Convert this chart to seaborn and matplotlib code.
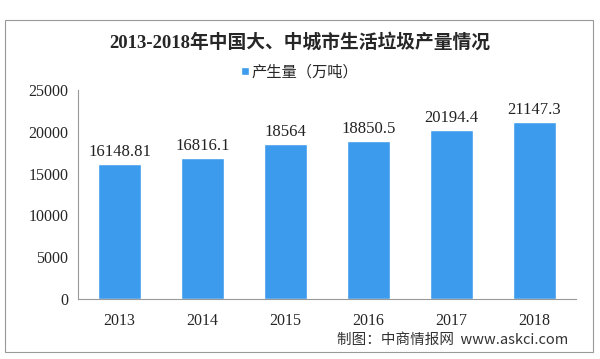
import matplotlib
matplotlib.use("Agg")
import matplotlib.pyplot as plt
import seaborn as sns
import pandas as pd
from matplotlib.patches import Rectangle

# datos
anios = ["2013", "2014", "2015", "2016", "2017", "2018"]
produccion = [16148.81, 16816.1, 18564, 18850.5, 20194.4, 21147.3]
etiquetas = ["16148.81", "16816.1", "18564", "18850.5", "20194.4", "21147.3"]
yticks = [0, 5000, 10000, 15000, 20000, 25000]

sns.set_style("white")
plt.rcParams['font.family'] = ['Liberation Serif', 'Noto Sans CJK SC', 'DejaVu Sans']

df = pd.DataFrame({"anio": anios, "valor": produccion})

fig = plt.figure(figsize=(6, 3.59), dpi=100)
ax = fig.add_axes([78/600, 1-299/359, 498/600, 209/359])

sns.barplot(data=df, x="anio", y="valor", color="#3c9bec", saturation=1,
            width=0.52, ax=ax, label="产生量（万吨）")
if ax.get_legend() is not None:
    ax.get_legend().remove()

ax.set_ylim(0, 25000)
ax.set_yticks(yticks)
ax.set_xlim(-0.5, 5.5)
ax.set_xlabel("")
ax.set_ylabel("")
ax.tick_params(axis="y", labelsize=11.5, length=4, color="#888888", direction="out", pad=3)
ax.tick_params(axis="x", which="major", labelsize=11.5, length=0, pad=10)
ax.set_xticks([i - 0.5 for i in range(7)], minor=True)
ax.tick_params(axis="x", which="minor", length=4, color="#888888")
for s in ["top", "right"]:
    ax.spines[s].set_visible(False)
for s in ["left", "bottom"]:
    ax.spines[s].set_color("#999999")
    ax.spines[s].set_linewidth(0.8)

for i, (v, t) in enumerate(zip(produccion, etiquetas)):
    ax.text(i, v + 500, t, ha="center", va="bottom", fontsize=12, color="#222222")

fig.text(0.5, 1-42/359, "2013-2018年中国大、中城市生活垃圾产量情况", ha="center", va="center",
         fontsize=13.5, fontweight="bold", family=["Liberation Serif", "Noto Sans CJK SC"])

handles, labels = ax.get_legend_handles_labels()
fig.legend(handles, labels, loc="center", bbox_to_anchor=(0.5, 1-72/359), frameon=False,
           handlelength=0.5, handleheight=0.5, handletextpad=0.2,
           prop={"family": ["Noto Sans CJK SC"], "size": 11})

fig.text(337/600, 1-340/359, "制图：中商情报网  www.askci.com", ha="left", va="center",
         fontsize=10.5, family=["Noto Sans CJK SC", "DejaVu Sans"], color="#333333")

fig.patches.append(Rectangle((5/600, 1-352/359), 588/600, 332/359, transform=fig.transFigure,
                             fill=False, edgecolor="#999999", linewidth=0.8))

fig.savefig("out.png", dpi=100, facecolor="white")
